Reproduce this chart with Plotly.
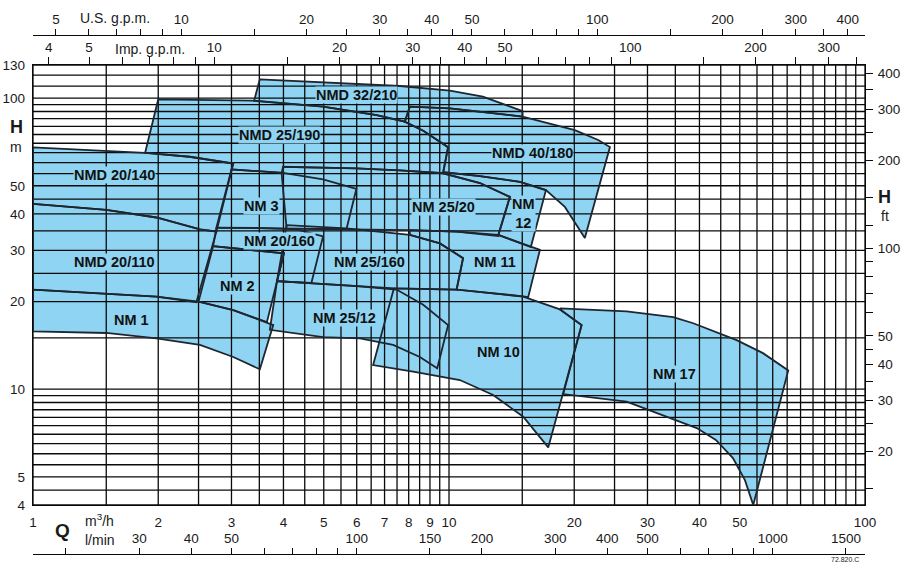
import math
import plotly.graph_objects as go

# ---------------- axis ticks / grid ----------------
Q_MIN, Q_MAX = 1, 100
H_MIN, H_MAX = 4, 130

q_tickvals = [1, 2, 3, 4, 5, 6, 7, 8, 9, 10, 20, 30, 40, 50, 100]
h_tickvals = [4, 5, 10, 20, 30, 40, 50, 100, 130]

grid_q = [1, 1.5, 2, 2.5, 3, 3.5, 4, 4.5, 5, 5.5, 6, 6.5, 7, 7.5, 8, 8.5, 9, 9.5, 10,
          15, 20, 25, 30, 35, 40, 45, 50, 55, 60, 65, 70, 75, 80, 85, 90, 95, 100]
grid_h = [4, 4.5, 5, 5.5, 6, 6.5, 7, 7.5, 8, 8.5, 9, 9.5, 10, 15, 20, 25, 30, 35, 40,
          45, 50, 55, 60, 65, 70, 75, 80, 85, 90, 95, 100, 110, 120, 130]

lmin_ticks = [20, 30, 40, 50, 60, 70, 80, 90, 100, 150, 200, 300, 400, 500, 600, 700, 800, 900, 1000, 1500]
lmin_labels = [30, 40, 50, 100, 150, 200, 300, 400, 500, 1000, 1500]
imp_ticks = [4, 5, 6, 7, 8, 9, 10, 15, 20, 25, 30, 35, 40, 45, 50, 60, 70, 80, 90, 100, 150, 200, 250, 300, 350]
imp_labels = [4, 5, 10, 20, 30, 40, 50, 100, 200, 300]
us_ticks = [5, 6, 7, 8, 9, 10, 15, 20, 25, 30, 35, 40, 45, 50, 60, 70, 80, 90, 100, 150, 200, 250, 300, 350, 400]
us_labels = [5, 10, 20, 30, 40, 50, 100, 200, 300, 400]
ft_ticks = [15, 20, 25, 30, 35, 40, 45, 50, 60, 70, 80, 90, 100, 120, 150, 200, 250, 300, 350, 400]
ft_labels = [20, 30, 40, 50, 100, 200, 300, 400]

# ---------------- pump regions (Q m3/h, H m) ----------------
nm1_top_q = [1.0, 1.5, 1.98, 2.5, 3.03, 3.78]
nm1_top_h = [22.0, 21.3, 20.8, 20.0, 18.7, 16.6]
nm1_bot_q = [1.0, 1.5, 1.98, 2.52, 3.03, 3.51]
nm1_bot_h = [15.8, 15.6, 14.95, 14.2, 12.9, 11.7]

nmd20110_top_q = [1.0, 1.5, 1.98, 2.52, 2.76]
nmd20110_top_h = [43.3, 41.3, 38.9, 35.4, 34.8]
nmd20110_bot_q = [1.0, 1.5, 1.98, 2.47]
nmd20110_bot_h = [22.0, 21.3, 20.8, 19.9]

nmd20140_top_q = [1.0, 1.5, 1.86, 2.38, 3.03]
nmd20140_top_h = [67.8, 66.0, 64.9, 62.9, 59.6]
nmd20140_bot_q = [1.0, 1.5, 1.98, 2.52, 2.76]
nmd20140_bot_h = [43.3, 41.3, 38.9, 35.4, 34.8]

nmd25190_top_q = [2.0, 3.38, 4.98, 6.70, 7.83, 8.67, 9.95]
nmd25190_top_h = [99.1, 98.0, 93.5, 87.5, 83.0, 77.3, 67.8]
nmd25190_bot_q = [1.86, 2.38, 3.03, 3.0, 3.99, 3.99, 5.99, 7.62, 9.68]
nmd25190_bot_h = [64.9, 62.9, 59.6, 56.9, 55.4, 58.1, 57.4, 56.5, 55.2]

nmd32210_top_q = [3.51, 5.27, 7.62, 10.05, 12.06, 15.03]
nmd32210_top_h = [116.1, 113.0, 110.1, 106.2, 101.2, 90.3]
nmd32210_bot_q = [3.40, 4.98, 6.70, 7.83, 8.05, 10.05, 15.03]
nmd32210_bot_h = [98.0, 93.5, 87.5, 83.0, 93.5, 92.3, 86.4]

nmd40180_top_q = [8.05, 10.05, 15.03, 20.07, 22.84, 24.37]
nmd40180_top_h = [93.5, 92.3, 86.4, 77.7, 71.8, 67.9]
nmd40180_bot_q = [7.83, 8.67, 9.95, 9.68, 11.87, 14.81, 17.10, 18.99, 21.21]
nmd40180_bot_h = [83.0, 77.3, 67.8, 55.7, 54.0, 51.6, 48.3, 42.3, 33.1]

nm3_top_q = [3.0, 3.99, 4.98, 5.99]
nm3_top_h = [56.9, 55.4, 52.6, 48.8]
nm3_bot_q = [2.76, 4.07, 5.67]
nm3_bot_h = [35.9, 35.6, 35.5]

nm20160_top_q = [2.76, 3.51, 4.30, 4.98]
nm20160_top_h = [35.9, 35.8, 35.4, 33.5]
nm20160_bot_q = [2.71, 3.3, 4.01, 3.86, 4.67]
nm20160_bot_h = [31.0, 30.2, 29.3, 23.5, 23.2]

nm2_top_q = [2.71, 3.3, 4.01]
nm2_top_h = [31.0, 30.2, 29.3]
nm2_bot_q = [2.50, 3.03, 3.65]
nm2_bot_h = [20.0, 18.7, 17.0]

nm25160_top_q = [4.07, 5.67, 8.05, 9.51, 10.81]
nm25160_top_h = [36.6, 35.7, 33.9, 31.7, 28.2]
nm25160_bot_q = [3.86, 5.99, 7.41, 10.43]
nm25160_bot_h = [23.5, 22.6, 22.2, 22.0]

nm2512_top_q = [3.86, 5.99, 7.48, 8.67, 9.95]
nm2512_top_h = [23.5, 22.6, 22.0, 19.5, 16.6]
nm2512_bot_q = [3.71, 4.98, 6.11, 7.34, 8.51, 9.37]
nm2512_bot_h = [16.0, 15.1, 14.95, 14.2, 12.9, 11.8]

nm2520_top_q = [3.99, 5.99, 7.62, 9.68, 11.87, 14.01]
nm2520_top_h = [58.1, 57.4, 56.5, 55.2, 51.1, 45.8]
nm2520_bot_q = [3.96, 4.07, 5.67, 8.05, 10.43, 13.13]
nm2520_bot_h = [55.2, 35.6, 35.5, 35.2, 34.8, 33.6]

nm12_top_q = [9.68, 11.87, 14.81, 17.10]
nm12_top_h = [55.7, 54.0, 51.6, 48.3]
nm12_bot_q = [9.68, 11.87, 14.01, 13.13, 15.73]
nm12_bot_h = [55.2, 51.1, 45.8, 33.9, 30.8]

nm11_top_q = [8.05, 10.43, 13.13, 16.54]
nm11_top_h = [35.2, 34.8, 33.9, 30.1]
nm11_bot_q = [8.05, 9.51, 10.81, 10.43, 15.08, 15.50]
nm11_bot_h = [33.9, 31.7, 28.2, 22.0, 20.85, 20.7]

nm10_top_q = [7.37, 10.43, 15.08, 18.48, 20.83]
nm10_top_h = [22.2, 22.0, 20.8, 18.8, 16.6]
nm10_bot_q = [6.57, 8.20, 10.62, 12.77, 15.08, 17.32]
nm10_bot_h = [12.1, 11.5, 10.75, 9.55, 8.04, 6.31]

nm17_top_q = [18.48, 26.73, 34.59, 38.65, 49.14, 56.85, 65.39]
nm17_top_h = [18.95, 18.5, 17.7, 16.85, 14.75, 13.3, 11.6]
nm17_bot_q = [18.48, 20.83, 18.82, 26.73, 39.4, 43.8, 48.15, 51.45, 53.87]
nm17_bot_h = [18.8, 16.6, 9.62, 9.06, 7.35, 6.69, 5.80, 4.87, 4.0]

region_data = [
    (nmd20140_top_q, nmd20140_top_h, nmd20140_bot_q, nmd20140_bot_h),
    (nmd20110_top_q, nmd20110_top_h, nmd20110_bot_q, nmd20110_bot_h),
    (nm1_top_q, nm1_top_h, nm1_bot_q, nm1_bot_h),
    (nm2_top_q, nm2_top_h, nm2_bot_q, nm2_bot_h),
    (nm3_top_q, nm3_top_h, nm3_bot_q, nm3_bot_h),
    (nm20160_top_q, nm20160_top_h, nm20160_bot_q, nm20160_bot_h),
    (nmd25190_top_q, nmd25190_top_h, nmd25190_bot_q, nmd25190_bot_h),
    (nmd32210_top_q, nmd32210_top_h, nmd32210_bot_q, nmd32210_bot_h),
    (nmd40180_top_q, nmd40180_top_h, nmd40180_bot_q, nmd40180_bot_h),
    (nm25160_top_q, nm25160_top_h, nm25160_bot_q, nm25160_bot_h),
    (nm2512_top_q, nm2512_top_h, nm2512_bot_q, nm2512_bot_h),
    (nm2520_top_q, nm2520_top_h, nm2520_bot_q, nm2520_bot_h),
    (nm12_top_q, nm12_top_h, nm12_bot_q, nm12_bot_h),
    (nm11_top_q, nm11_top_h, nm11_bot_q, nm11_bot_h),
    (nm10_top_q, nm10_top_h, nm10_bot_q, nm10_bot_h),
    (nm17_top_q, nm17_top_h, nm17_bot_q, nm17_bot_h),
]

# label text and anchor (Q, H)
label_text = ["NMD 32/210", "NMD 25/190", "NMD 40/180", "NMD 20/140", "NM 3", "NM 25/20",
              "NM<br>12", "NM 20/160", "NMD 20/110", "NM 25/160", "NM 11", "NM 2",
              "NM 25/12", "NM 1", "NM 10", "NM 17"]
label_q = [5.99, 3.92, 15.91, 1.572, 3.54, 9.68, 15.14, 3.92, 1.572, 6.45, 12.89, 3.11,
           5.62, 1.724, 13.13, 34.92]
label_h = [102.5, 74.7, 64.8, 54.4, 42.6, 42.4, 40.0, 32.3, 27.4, 27.3, 27.4, 22.6,
           17.6, 17.3, 13.45, 11.27]

# ---------------- styling ----------------
FILL = "#8fd4f2"
EDGE = "#1d2631"
GRID = "#0a0a0a"
FONT = "Liberation Sans, Arial, Helvetica, sans-serif"
TXT = "#1a1a1a"

W, H = 906, 563
ML, MR, MT, MB = 33, 41, 35, 9
PLOT_TOP, PLOT_BOT = 65, 505
PW = W - ML - MR
PH = H - MT - MB


def px(x):
    return (x - ML) / PW


def py(y):
    return (H - MB - y) / PH


fig = go.Figure()

polys = []
for tq, th, bq, bh in region_data:
    xs = list(tq) + list(bq)[::-1] + [tq[0]]
    ys = list(th) + list(bh)[::-1] + [th[0]]
    polys.append((xs, ys))

for xs, ys in polys:
    fig.add_trace(go.Scatter(x=xs, y=ys, mode="lines", fill="toself", fillcolor=FILL,
                             line=dict(width=0), hoverinfo="skip", showlegend=False))

gx, gy = [], []
for q in grid_q:
    gx += [q, q, None]
    gy += [H_MIN, H_MAX, None]
for h in grid_h:
    gx += [Q_MIN, Q_MAX, None]
    gy += [h, h, None]
fig.add_trace(go.Scatter(x=gx, y=gy, mode="lines", line=dict(color=GRID, width=1.3),
                         hoverinfo="skip", showlegend=False))

for xs, ys in polys:
    fig.add_trace(go.Scatter(x=xs, y=ys, mode="lines", line=dict(color=EDGE, width=1.8),
                             hoverinfo="skip", showlegend=False))

for xa, ya in [("x2", "y"), ("x3", "y"), ("x4", "y"), ("x", "y2")]:
    fig.add_trace(go.Scatter(x=[], y=[], xaxis=xa, yaxis=ya, showlegend=False, hoverinfo="skip"))

for t, q, h in zip(label_text, label_q, label_h):
    fig.add_annotation(x=math.log10(q), y=math.log10(h), xref="x", yref="y", text=t,
                       showarrow=False, bgcolor=FILL, borderpad=0,
                       font=dict(family=FONT, size=14.5, color="#111111", weight="bold"))


def labels_for(ticks, labelled):
    return [str(t) if t in labelled else " " for t in ticks]


US_PER_M3H = 1000 / 3.785411784 / 60
IMP_PER_M3H = 1000 / 4.54609 / 60
LMIN_PER_M3H = 1000 / 60
FT_PER_M = 1 / 0.3048

lg = math.log10
ydom = [py(PLOT_BOT), py(PLOT_TOP)]
tickfont = dict(family=FONT, size=13.5, color=TXT)

common = dict(showgrid=False, zeroline=False, tickmode="array", automargin=False,
              tickfont=tickfont, tickcolor=GRID, fixedrange=True)

fig.update_layout(
    width=W, height=H,
    margin=dict(l=ML, r=MR, t=MT, b=MB, autoexpand=False),
    paper_bgcolor="white", plot_bgcolor="white",
    font=dict(family=FONT, size=14, color=TXT),
    showlegend=False,
    xaxis=dict(type="log", range=[lg(Q_MIN), lg(Q_MAX)], domain=[0, 1], anchor="y",
               tickvals=q_tickvals, ticktext=[str(v) for v in q_tickvals], ticks="",
               ticklabelstandoff=4, showline=True, mirror=True, linecolor=GRID,
               linewidth=1.3, **common),
    yaxis=dict(type="log", range=[lg(H_MIN), lg(H_MAX)], domain=ydom, anchor="x",
               tickvals=h_tickvals, ticktext=[str(v) for v in h_tickvals], ticks="",
               ticklabelstandoff=4, showline=True, mirror=True, linecolor=GRID,
               linewidth=1.3, **common),
    xaxis2=dict(type="log", overlaying="x", anchor="free", position=0, side="top",
                range=[lg(Q_MIN * LMIN_PER_M3H), lg(Q_MAX * LMIN_PER_M3H)],
                tickvals=lmin_ticks, ticktext=labels_for(lmin_ticks, lmin_labels),
                ticks="outside", ticklen=6, showline=True, linecolor=GRID, linewidth=1.2,
                **common),
    xaxis3=dict(type="log", overlaying="x", anchor="y", side="top",
                range=[lg(Q_MIN * IMP_PER_M3H), lg(Q_MAX * IMP_PER_M3H)],
                tickvals=imp_ticks, ticktext=labels_for(imp_ticks, imp_labels),
                ticks="outside", ticklen=7, showline=False, **common),
    xaxis4=dict(type="log", overlaying="x", anchor="free", position=1, side="top",
                range=[lg(Q_MIN * US_PER_M3H), lg(Q_MAX * US_PER_M3H)],
                tickvals=us_ticks, ticktext=labels_for(us_ticks, us_labels),
                ticks="outside", ticklen=6, showline=True, linecolor=GRID, linewidth=1.2,
                **common),
    yaxis2=dict(type="log", overlaying="y", anchor="x", side="right",
                range=[lg(H_MIN * FT_PER_M), lg(H_MAX * FT_PER_M)],
                tickvals=ft_ticks, ticktext=labels_for(ft_ticks, ft_labels),
                ticks="outside", ticklen=7, showline=False, ticklabelstandoff=2, **common),
)

side_texts = [
    ("U.S. g.p.m.", 115, 18, 14, "normal", "center"),
    ("Imp. g.p.m.", 150, 49, 14, "normal", "center"),
    ("H", 16, 127, 18, "bold", "center"),
    ("m", 16, 147, 14, "normal", "center"),
    ("H", 885, 197, 18, "bold", "center"),
    ("ft", 885, 216, 14, "normal", "center"),
    ("Q", 62, 530, 19, "bold", "center"),
    ("m<sup>3</sup>/h", 83, 520, 14, "normal", "left"),
    ("l/min", 83, 540, 14, "normal", "left"),
    ("72.820.C", 845, 559, 7, "normal", "center"),
]
for t, x, y, s, wgt, xa in side_texts:
    fig.add_annotation(x=px(x), y=py(y), xref="paper", yref="paper", text=t, showarrow=False,
                       xanchor=xa, yanchor="middle",
                       font=dict(family=FONT, size=s, color=TXT, weight=wgt))

fig.write_html("out.html", config={"displayModeBar": False, "staticPlot": True},
               post_script="document.body.style.margin='0';document.body.style.overflow='hidden';")
